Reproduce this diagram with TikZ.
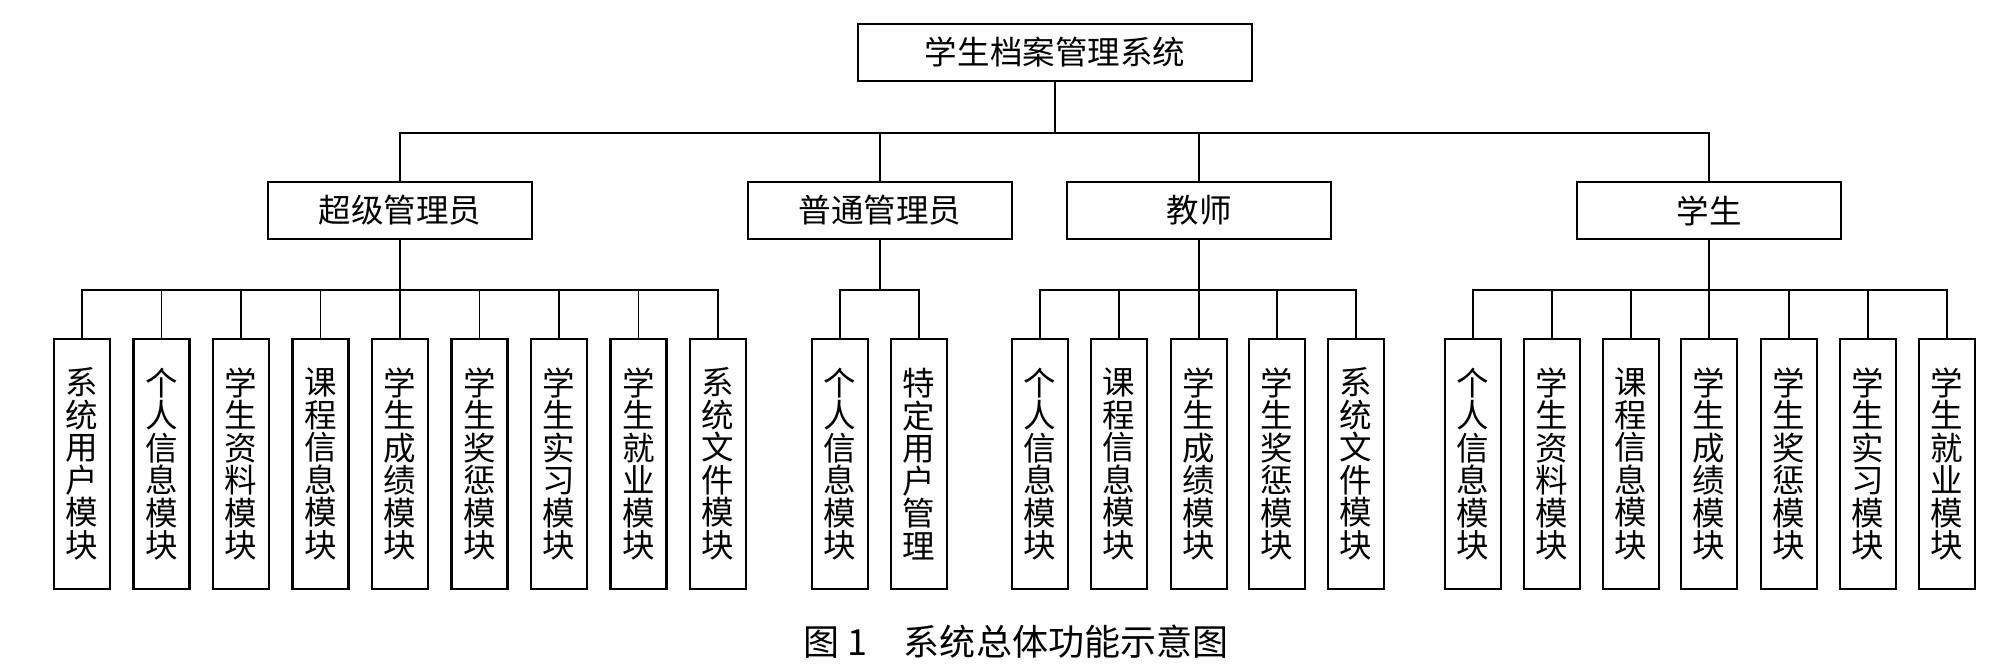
\documentclass[tikz,border=0pt]{standalone}
\usepackage{fontspec}
\newfontfamily\cjk{Noto Sans CJK SC}

\begin{document}
\begin{tikzpicture}[x=0.02cm,y=-0.02cm,
    topbox/.style={minimum width=7.88cm,minimum height=1.14cm},
    rolebox/.style={minimum width=5.28cm,minimum height=1.14cm},
    modbox/.style={minimum width=1.12cm,minimum height=5cm,align=center}]
\useasboundingbox (0,0) rectangle (2005,671);

\begin{scope}[every node/.style={draw,line width=1.2pt,inner sep=0pt,
              font=\cjk\fontsize{18.5}{18.5}\selectfont}]
    \node[topbox] (System) at (1055,52.5) {学生档案管理系统};

    \node[rolebox] (Super)   at (400,210.5)  {超级管理员};
    \node[rolebox] (Admin)   at (880,210.5)  {普通管理员};
    \node[rolebox] (Teacher) at (1199,210.5) {教师};
    \node[rolebox] (Student) at (1709,210.5) {学生};

    % super admin
    \node[modbox] (S1) at (82,464)  {系\\统\\用\\户\\模\\块};
    \node[modbox] (S2) at (161.5,464) {个\\人\\信\\息\\模\\块};
    \node[modbox] (S3) at (241,464) {学\\生\\资\\料\\模\\块};
    \node[modbox] (S4) at (320.5,464) {课\\程\\信\\息\\模\\块};
    \node[modbox] (S5) at (400,464) {学\\生\\成\\绩\\模\\块};
    \node[modbox] (S6) at (479.5,464) {学\\生\\奖\\惩\\模\\块};
    \node[modbox] (S7) at (559,464) {学\\生\\实\\习\\模\\块};
    \node[modbox] (S8) at (638.5,464) {学\\生\\就\\业\\模\\块};
    \node[modbox] (S9) at (718,464) {系\\统\\文\\件\\模\\块};

    % admin
    \node[modbox] (A1) at (840,464) {个\\人\\信\\息\\模\\块};
    \node[modbox] (A2) at (919,464) {特\\定\\用\\户\\管\\理};

    % teacher
    \node[modbox] (T1) at (1040,464) {个\\人\\信\\息\\模\\块};
    \node[modbox] (T2) at (1119,464) {课\\程\\信\\息\\模\\块};
    \node[modbox] (T3) at (1199,464) {学\\生\\成\\绩\\模\\块};
    \node[modbox] (T4) at (1277,464) {学\\生\\奖\\惩\\模\\块};
    \node[modbox] (T5) at (1356,464) {系\\统\\文\\件\\模\\块};

    % student
    \node[modbox] (U1) at (1473,464) {个\\人\\信\\息\\模\\块};
    \node[modbox] (U2) at (1552,464) {学\\生\\资\\料\\模\\块};
    \node[modbox] (U3) at (1631,464) {课\\程\\信\\息\\模\\块};
    \node[modbox] (U4) at (1709,464) {学\\生\\成\\绩\\模\\块};
    \node[modbox] (U5) at (1789,464) {学\\生\\奖\\惩\\模\\块};
    \node[modbox] (U6) at (1868,464) {学\\生\\实\\习\\模\\块};
    \node[modbox] (U7) at (1947,464) {学\\生\\就\\业\\模\\块};
\end{scope}

\begin{scope}[line width=0.9pt]
    \foreach \r in {Super,Admin,Teacher,Student}
        \draw (System.south) -- ++(0,51) -| (\r.north);
    \foreach \m in {S1,S2,S3,S4,S5,S6,S7,S8,S9}
        \draw (Super.south) -- ++(0,50) -| (\m.north);
    \foreach \m in {A1,A2}
        \draw (Admin.south) -- ++(0,50) -| (\m.north);
    \foreach \m in {T1,T2,T3,T4,T5}
        \draw (Teacher.south) -- ++(0,50) -| (\m.north);
    \foreach \m in {U1,U2,U3,U4,U5,U6,U7}
        \draw (Student.south) -- ++(0,50) -| (\m.north);
\end{scope}

\node[font=\cjk\fontsize{20.5}{20.5}\selectfont] (Caption) at (1016,642) {图 1\quad 系统总体功能示意图};
\end{tikzpicture}
\end{document}
